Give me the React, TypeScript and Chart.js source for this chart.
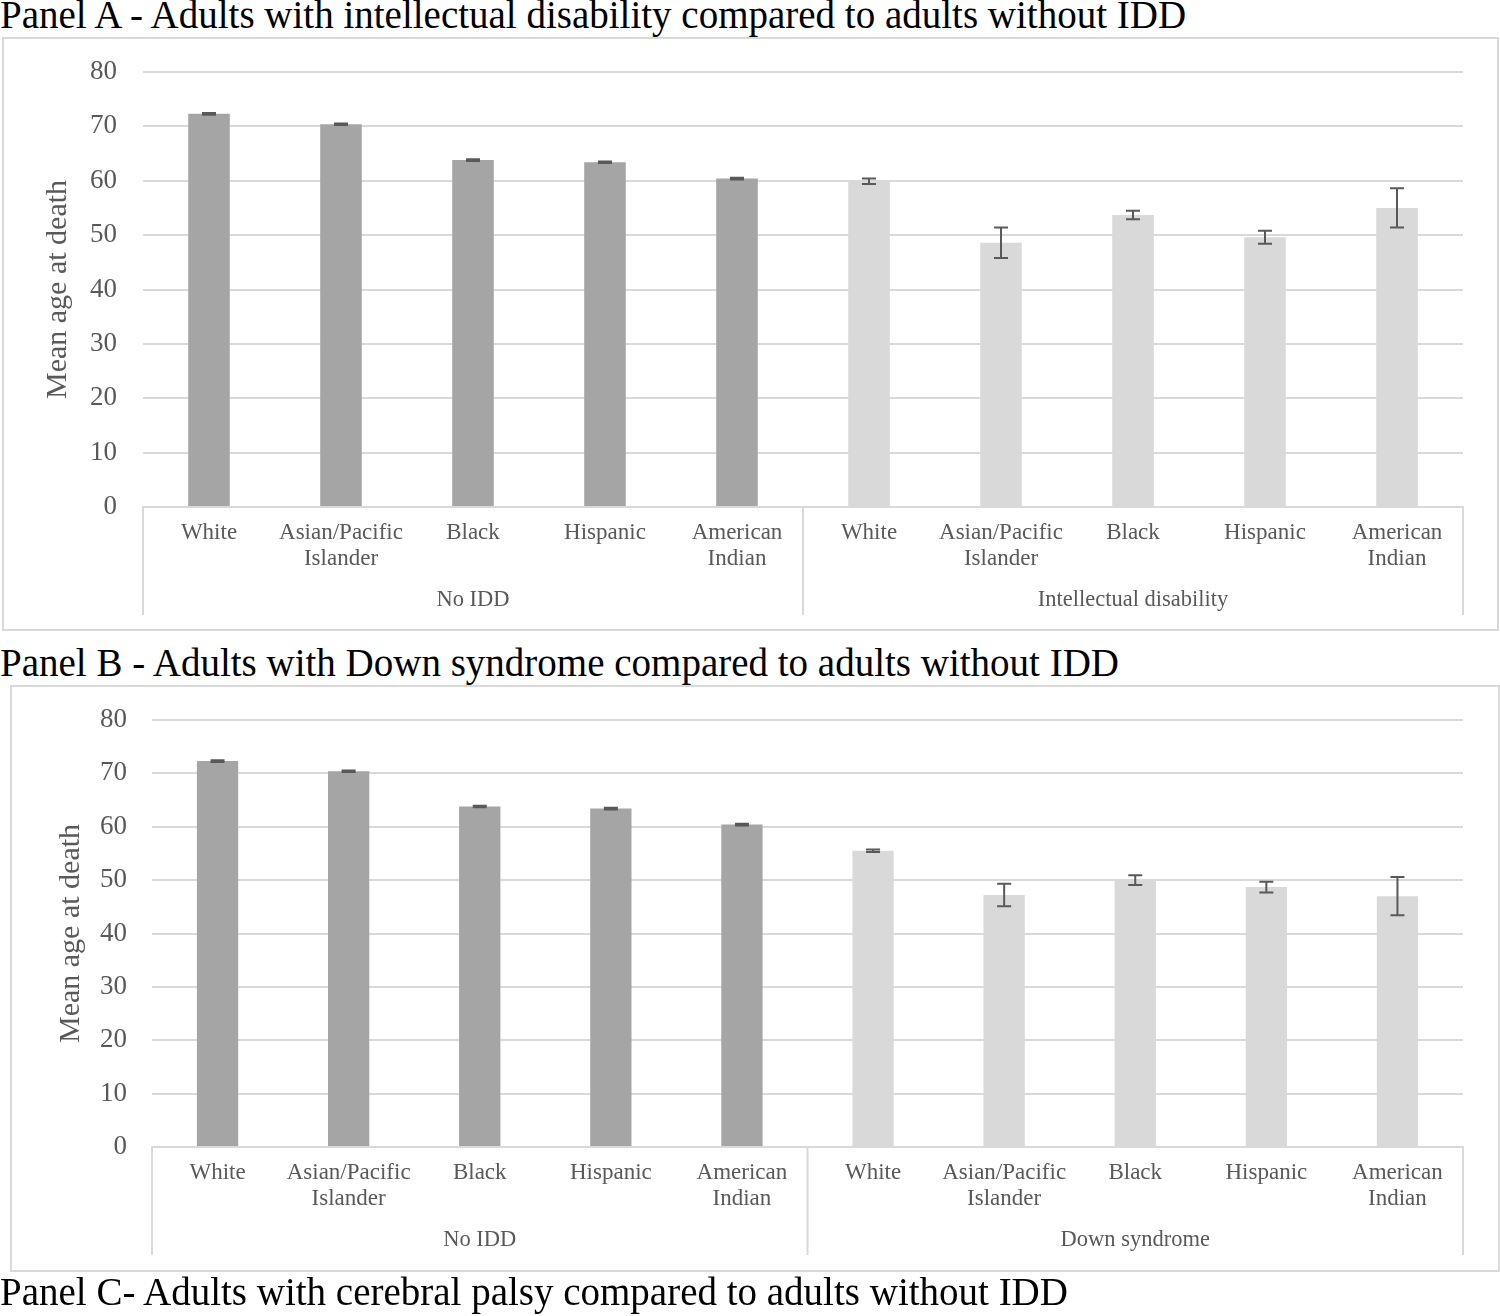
import React, { useEffect, useRef } from 'react';
import { Chart, registerables } from 'chart.js';

Chart.register(...registerables);

// ---- data ----
const categories: (string | string[])[] = [
  'White', ['Asian/Pacific', 'Islander'], 'Black', 'Hispanic', ['American', 'Indian'],
  'White', ['Asian/Pacific', 'Islander'], 'Black', 'Hispanic', ['American', 'Indian'],
];
const groupSizes = [5, 5];
const groupsA = ['No IDD', 'Intellectual disability'];
const groupsB = ['No IDD', 'Down syndrome'];

const meanNoIDD = [72.3, 70.4, 63.8, 63.4, 60.4];
const errNoIDD = [0.15, 0.15, 0.15, 0.15, 0.15];
const meanID = [59.9, 48.6, 53.7, 49.6, 55.0];
const errID = [0.5, 2.8, 0.8, 1.2, 3.6];
const meanDS = [55.5, 47.2, 50.0, 48.7, 47.0];
const errDS = [0.25, 2.1, 0.9, 1.0, 3.6];

const yTicks = [0, 10, 20, 30, 40, 50, 60, 70, 80];

const titleA = 'Panel A - Adults with intellectual disability compared to adults without IDD';
const titleB = 'Panel B - Adults with Down syndrome compared to adults without IDD';
const titleC = 'Panel C- Adults with cerebral palsy compared to adults without IDD';
const yTitle = 'Mean age at death';

const DARK = '#a5a5a5';
const LIGHT = '#d9d9d9';
const TEXT = '#595959';
const GRID = '#d9d9d9';
const SERIF = "'Liberation Serif', 'Times New Roman', serif";

const errorBarPlugin = {
  id: 'errorBars',
  afterDatasetsDraw(chart: any, _args: any, opts: any) {
    const { ctx } = chart;
    const y = chart.scales.y;
    const meta = chart.getDatasetMeta(0);
    const means = chart.data.datasets[0].data as number[];
    const errs: number[] = opts.errors || [];
    ctx.save();
    ctx.strokeStyle = '#595959';
    ctx.lineWidth = 2;
    meta.data.forEach((bar: any, i: number) => {
      const e = errs[i];
      if (e == null) return;
      const x = bar.x;
      const t = y.getPixelForValue(means[i] + e);
      const b = y.getPixelForValue(means[i] - e);
      const cw = 7;
      ctx.beginPath();
      ctx.moveTo(x, t);
      ctx.lineTo(x, b);
      ctx.moveTo(x - cw, t);
      ctx.lineTo(x + cw, t);
      ctx.moveTo(x - cw, b);
      ctx.lineTo(x + cw, b);
      ctx.stroke();
    });
    ctx.restore();
  },
};

const groupAxisPlugin = {
  id: 'groupAxis',
  afterDraw(chart: any, _args: any, opts: any) {
    const { ctx } = chart;
    const xs = chart.scales.x;
    const n = chart.data.labels.length;
    const step = xs.getPixelForValue(1) - xs.getPixelForValue(0);
    const axisY = xs.top;
    const sizes: number[] = opts.sizes;
    const names: string[] = opts.names;
    const bounds: number[] = [xs.getPixelForValue(0) - step / 2];
    let idx = 0;
    sizes.forEach((s) => {
      idx += s;
      bounds.push(xs.getPixelForValue(Math.min(idx, n) - 1) + step / 2);
    });
    ctx.save();
    ctx.strokeStyle = GRID;
    ctx.lineWidth = 2;
    bounds.forEach((bx) => {
      ctx.beginPath();
      ctx.moveTo(bx, axisY);
      ctx.lineTo(bx, axisY + opts.dividerLength);
      ctx.stroke();
    });
    ctx.fillStyle = TEXT;
    ctx.font = `22.5px ${SERIF}`;
    ctx.textAlign = 'center';
    ctx.textBaseline = 'middle';
    names.forEach((nm, i) => {
      const cx = (bounds[i] + bounds[i + 1]) / 2;
      ctx.fillText(nm, cx, axisY + opts.labelOffset);
    });
    ctx.restore();
  },
};

type PanelProps = {
  left: number; top: number; width: number; height: number;
  means: number[]; errors: number[]; groups: string[];
  plotLeft: number; plotRight: number; plotTop: number; plotBottom: number;
  tickPad: number; titleX: number;
};

function Panel(p: PanelProps) {
  const ref = useRef<HTMLCanvasElement | null>(null);
  useEffect(() => {
    if (!ref.current) return;
    const colors = p.means.map((_, i) => (i < groupSizes[0] ? DARK : LIGHT));
    const chart = new Chart(ref.current, {
      type: 'bar',
      data: {
        labels: categories as any,
        datasets: [{
          data: p.means,
          backgroundColor: colors,
          borderWidth: 0,
          barPercentage: 0.315,
          categoryPercentage: 1,
        }],
      },
      plugins: [errorBarPlugin, groupAxisPlugin],
      options: {
        responsive: false,
        animation: false,
        devicePixelRatio: 1,
        layout: { padding: { left: 0, top: p.plotTop, right: p.width - p.plotRight, bottom: 0 } },
        plugins: {
          legend: { display: false },
          tooltip: { enabled: false },
          errorBars: { errors: p.errors },
          groupAxis: { sizes: groupSizes, names: p.groups, dividerLength: 108, labelOffset: 93 },
        } as any,
        scales: {
          x: {
            grid: { display: false, drawTicks: false },
            border: { display: true, color: GRID, width: 2 },
            ticks: {
              color: TEXT,
              font: { family: SERIF, size: 23, lineHeight: 1.13 },
              padding: 13,
              maxRotation: 0,
              autoSkip: false,
            },
            afterFit: (s: any) => {
              s.height = p.height - p.plotBottom;
              s.paddingLeft = 0;
              s.paddingRight = 0;
            },
          },
          y: {
            min: 0,
            max: 80,
            afterBuildTicks: (s: any) => { s.ticks = yTicks.map((v) => ({ value: v })); },
            grid: { color: GRID, lineWidth: 2, drawTicks: false },
            border: { display: false },
            ticks: {
              color: TEXT,
              font: { family: SERIF, size: 27 },
              padding: p.tickPad,
            },
            title: {
              display: true,
              text: yTitle,
              color: TEXT,
              font: { family: SERIF, size: 30, lineHeight: 1.2 },
              padding: { top: p.titleX - 18, bottom: 0 },
            },
            afterFit: (s: any) => {
              s.width = p.plotLeft;
              s.paddingTop = 0;
              s.paddingBottom = 0;
            },
          },
        },
      } as any,
    });
    return () => chart.destroy();
  }, []);
  return (
    <>
      <canvas
        ref={ref}
        width={p.width}
        height={p.height}
        style={{ position: 'absolute', left: p.left, top: p.top, width: p.width, height: p.height }}
      />
      <div
        style={{
          position: 'absolute', left: p.left - 1, top: p.top - 1, width: p.width + 2, height: p.height + 2,
          border: `2px solid ${GRID}`, boxSizing: 'border-box', pointerEvents: 'none',
        }}
      />
    </>
  );
}

const titleStyle = (top: number, size: number): React.CSSProperties => ({
  position: 'absolute', left: 0, top, fontFamily: SERIF, fontSize: size, lineHeight: 1,
  whiteSpace: 'nowrap', color: '#000',
});

export default function App() {
  return (
    <div style={{ position: 'absolute', left: 0, top: 0, width: 1500, height: 1316, background: '#fff', overflow: 'hidden' }}>
      <div style={titleStyle(-5, 39)}>{titleA}</div>
      <Panel
        left={3} top={38} width={1495} height={592}
        means={[...meanNoIDD, ...meanID]} errors={[...errNoIDD, ...errID]} groups={groupsA}
        plotLeft={140} plotRight={1460} plotTop={34} plotBottom={469}
        tickPad={26} titleX={55}
      />
      <div style={titleStyle(643, 39)}>{titleB}</div>
      <Panel
        left={11} top={686} width={1488} height={585}
        means={[...meanNoIDD, ...meanDS]} errors={[...errNoIDD, ...errDS]} groups={groupsB}
        plotLeft={141} plotRight={1452} plotTop={34} plotBottom={461}
        tickPad={25} titleX={60}
      />
      <div style={titleStyle(1272, 39)}>{titleC}</div>
    </div>
  );
}
